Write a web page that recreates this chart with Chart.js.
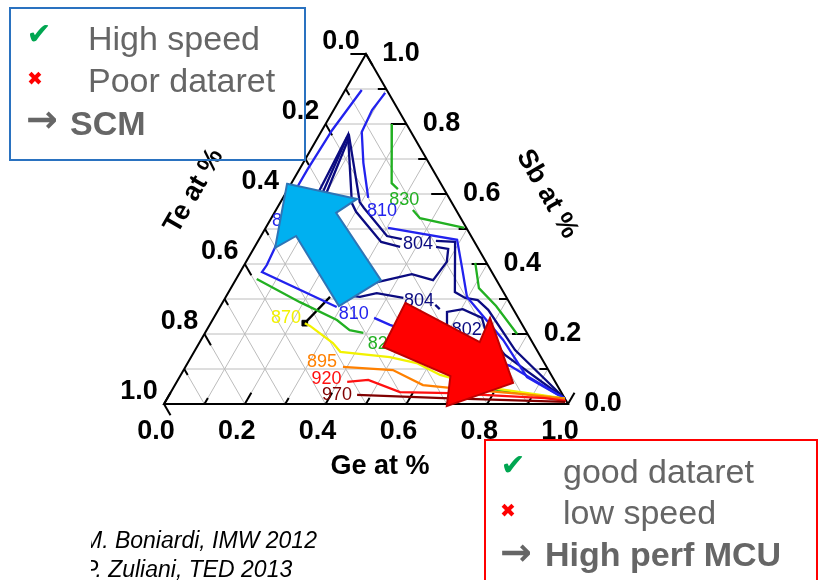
<!DOCTYPE html>
<html>
<head>
<meta charset="utf-8">
<script src="https://cdn.jsdelivr.net/npm/chart.js@4.4.1/dist/chart.umd.min.js"></script>
<style>
  html, body { margin: 0; padding: 0; background: #ffffff; }
  canvas { display: block; }
</style>
</head>
<body>
<canvas id="ternaryChart" width="821" height="580"></canvas>
<script>
// compositions as [Ge, Sb] fractions (Te = 1 - Ge - Sb), null = gap for a label
const contour810a = [[0.041, 0.897], [0.033, 0.840], [0.025, 0.783], [0.020, 0.669], [0.020, 0.617], null, [0.050, 0.460], [0.056, 0.397], [0.054, 0.377], [0.289, 0.277], null, [0.397, 0.246], [0.446, 0.226], [0.802, 0.109], [0.985, 0.015]];
const contour810b = [[0.103, 0.889], [0.095, 0.840], [0.101, 0.777], [0.149, 0.689], [0.211, 0.589], null, [0.303, 0.503], [0.491, 0.469], [0.542, 0.391], [0.597, 0.306], [0.748, 0.183], [0.860, 0.077], [0.985, 0.015]];
const contour804a = [[0.080, 0.603], [0.071, 0.769], [0.178, 0.574], [0.201, 0.549], [0.306, 0.463], [0.360, 0.449], null, [0.449, 0.449], [0.482, 0.443], [0.497, 0.406], [0.489, 0.354], [0.428, 0.371], [0.347, 0.346], [0.310, 0.326]];
const contour804b = [[0.101, 0.600], [0.077, 0.763], [0.196, 0.577], [0.215, 0.560], [0.312, 0.480], [0.353, 0.471], null, [0.440, 0.466], [0.489, 0.463], [0.560, 0.320], [0.594, 0.303], [0.628, 0.297], [0.668, 0.269], [0.792, 0.154], [0.985, 0.015]];
const contour804c = [[0.072, 0.763], [0.092, 0.594], [0.292, 0.311], [0.332, 0.306], [0.368, 0.317], [0.441, 0.303], null, [0.530, 0.283], [0.547, 0.271]];
const contour802 = [[0.594, 0.217], [0.569, 0.263], [0.604, 0.271], [0.664, 0.246], [0.696, 0.203], [0.774, 0.140], [0.985, 0.015]];
const contour830a = [[0.164, 0.800], [0.248, 0.631], [0.272, 0.614], null, [0.339, 0.554], [0.368, 0.531], [0.492, 0.503]];
const contour830b = [[0.569, 0.403], [0.614, 0.331], [0.682, 0.280], [0.774, 0.200]];
const contour820 = [[0.051, 0.357], [0.191, 0.291], [0.308, 0.240], [0.354, 0.211], [0.392, 0.203], null, [0.487, 0.154], [0.786, 0.043], [0.945, 0.020], [0.985, 0.015]];
const contour870 = [[0.233, 0.231], [0.250, 0.223], [0.331, 0.174], [0.362, 0.149], [0.492, 0.134], [0.567, 0.117], [0.642, 0.083], [0.766, 0.049], [0.918, 0.026], [0.985, 0.015]];
const contour895 = [[0.390, 0.106], [0.518, 0.097], [0.614, 0.054], [0.685, 0.046], [0.867, 0.029], [0.985, 0.015]];
const contour920 = [[0.422, 0.063], [0.471, 0.069], [0.567, 0.034], [0.692, 0.031], [0.934, 0.017], [0.990, 0.009]];
const contour970 = [[0.465, 0.026], [0.682, 0.017], [0.990, 0.006]];
const markerLine = [[0.233, 0.231], [0.258, 0.306]];
const markerPoint = [[0.233, 0.231]];

const labelLevels = ["830", "810", "810", "804", "804", "810", "802", "820", "870", "895", "920", "970"];
const labelSpots = [[0.303, 0.583], [0.264, 0.551], [0.043, 0.523], [0.400, 0.457], [0.484, 0.294], [0.341, 0.257], [0.644, 0.211], [0.456, 0.171], [0.179, 0.246], [0.331, 0.120], [0.367, 0.071], [0.415, 0.026]];

const arrowSCM = [[-0.010, 0.629], [0.185, 0.586], [0.153, 0.546], [0.360, 0.354], [0.293, 0.280], [0.087, 0.480], [0.052, 0.446]];
const arrowMCU = [[0.453, 0.289], [0.693, 0.177], [0.684, 0.246], [0.834, 0.060], [0.703, -0.006], [0.669, 0.080], [0.461, 0.163]];

const tickValues = [0, 0.2, 0.4, 0.6, 0.8, 1.0];
const tickLabels = ["0.0", "0.2", "0.4", "0.6", "0.8", "1.0"];

const levelColors = {
  "802": "#0b0b80",
  "804": "#0b0b80",
  "810": "#2222ee",
  "820": "#22b022",
  "830": "#22b022",
  "870": "#f2f200",
  "895": "#ff8000",
  "920": "#ff1010",
  "970": "#800000",
  "marker": "#000000"
};

const chartCanvas = document.getElementById("ternaryChart");

const toXY = ([ge, sb]) => ({ x: ge + sb / 2, y: sb });

const splitAtGaps = (points) => {
  let segments = [[]];
  points.forEach((point) => {
    if (point === null) segments.push([]);
    else segments[segments.length - 1].push(toXY(point));
  });
  return segments.filter((segment) => segment.length > 1);
};

const contourList = [
  [contour970, "970"], [contour920, "920"], [contour895, "895"], [contour870, "870"],
  [contour820, "820"], [contour830a, "830"], [contour830b, "830"],
  [contour810a, "810"], [contour810b, "810"],
  [contour804a, "804"], [contour804b, "804"], [contour804c, "804"], [contour802, "802"],
  [markerLine, "marker"]
];

let datasets = [];
contourList.forEach(([points, level]) => {
  splitAtGaps(points).forEach((segment) => {
    datasets.push({
      data: segment,
      showLine: true,
      borderColor: levelColors[level],
      borderWidth: 2.3,
      pointRadius: 0,
      tension: 0,
      clip: false
    });
  });
});
datasets.push({
  data: markerPoint.map(toXY),
  showLine: false,
  pointStyle: "rect",
  pointRadius: 4,
  backgroundColor: "#000000",
  borderColor: "#000000",
  clip: false
});

const ternaryDecor = {
  id: "ternaryDecor",
  beforeDatasetsDraw(chart) {
    const ctx = chart.ctx;
    const px = (ge, sb) => [chart.scales.x.getPixelForValue(ge + sb / 2), chart.scales.y.getPixelForValue(sb)];
    const segment = (a, b) => {
      ctx.beginPath();
      ctx.moveTo(a[0], a[1]);
      ctx.lineTo(b[0], b[1]);
      ctx.stroke();
    };
    ctx.save();
    ctx.lineWidth = 1;
    ctx.strokeStyle = "#bcbcbc";
    for (let k = 1; k < 10; k++) {
      const f = k / 10;
      segment(px(0, f), px(1 - f, f));
      segment(px(f, 0), px(f, 1 - f));
      segment(px(1 - f, 0), px(0, 1 - f));
    };
    ctx.strokeStyle = "#000000";
    ctx.lineWidth = 2;
    ctx.lineJoin = "miter";
    ctx.beginPath();
    ctx.moveTo(...px(0, 0));
    ctx.lineTo(...px(1, 0));
    ctx.lineTo(...px(0, 1));
    ctx.closePath();
    ctx.stroke();
    for (let k = 0; k <= 10; k++) {
      const f = k / 10;
      const len = k % 2 === 0 ? 13 : 7;
      let p = px(f, 0);
      segment(p, [p[0] + 0.5 * len, p[1] - 0.866 * len]);
      p = px(1 - f, f);
      segment(p, [p[0] - 1.2 * len, p[1]]);
      p = px(0, 1 - f);
      segment(p, [p[0] + 0.5 * len, p[1] + 0.866 * len]);
    };
    ctx.restore();
  },
  afterDatasetsDraw(chart) {
    const ctx = chart.ctx;
    const px = (ge, sb) => [chart.scales.x.getPixelForValue(ge + sb / 2), chart.scales.y.getPixelForValue(sb)];
    ctx.save();

    ctx.font = '18px "Liberation Sans", Arial, sans-serif';
    ctx.textAlign = "center";
    ctx.textBaseline = "middle";
    labelLevels.forEach((level, i) => {
      const p = px(labelSpots[i][0], labelSpots[i][1]);
      ctx.fillStyle = levelColors[level];
      ctx.fillText(level, p[0], p[1]);
    });

    const drawArrow = (shape, fill, stroke) => {
      ctx.beginPath();
      shape.forEach(([ge, sb], i) => {
        const p = px(ge, sb);
        if (i === 0) ctx.moveTo(p[0], p[1]);
        else ctx.lineTo(p[0], p[1]);
      });
      ctx.closePath();
      ctx.fillStyle = fill;
      ctx.fill();
      ctx.lineWidth = 2;
      ctx.lineJoin = "miter";
      ctx.strokeStyle = stroke;
      ctx.stroke();
    };
    drawArrow(arrowSCM, "#00b0f0", "#2e75b6");
    drawArrow(arrowMCU, "#ff0000", "#c00000");

    ctx.fillStyle = "#000000";
    ctx.font = 'bold 27px "Liberation Sans", Arial, sans-serif';
    tickValues.forEach((v, i) => {
      let p = px(v, 0);
      ctx.fillText(tickLabels[i], p[0] - 8, p[1] + 28);
      p = px(1 - v, v);
      ctx.fillText(tickLabels[i], p[0] + 35, p[1]);
      p = px(0, 1 - v);
      ctx.fillText(tickLabels[i], p[0] - 25, p[1] - 12);
    });

    let p = px(0.5, 0);
    ctx.fillText("Ge at %", p[0] + 14, p[1] + 63);
    p = px(0, 0.5);
    ctx.save();
    ctx.translate(p[0] - 71, p[1] - 38);
    ctx.rotate(-Math.PI / 3);
    ctx.fillText("Te at %", 0, 0);
    ctx.restore();
    p = px(0.5, 0.5);
    ctx.save();
    ctx.translate(p[0] + 80, p[1] - 35);
    ctx.rotate(Math.PI / 3);
    ctx.fillText("Sb at %", 0, 0);
    ctx.restore();

    ctx.lineWidth = 2;
    ctx.strokeStyle = "#2a72c0";
    ctx.strokeRect(10, 8, 295, 152);
    ctx.strokeStyle = "#ff0000";
    ctx.strokeRect(485, 440, 332, 150);

    ctx.textAlign = "left";
    ctx.textBaseline = "alphabetic";
    ctx.fillStyle = "#666666";
    ctx.font = '34px "Liberation Sans", Arial, sans-serif';
    ctx.fillText("High speed", 88, 50);
    ctx.fillText("Poor dataret", 88, 92);
    ctx.fillText("good dataret", 563, 483);
    ctx.fillText("low speed", 563, 524);
    ctx.font = 'bold 34px "Liberation Sans", Arial, sans-serif';
    ctx.fillText("SCM", 70, 135);
    ctx.fillText("High perf MCU", 545, 566);

    ctx.textAlign = "center";
    ctx.textBaseline = "middle";
    ctx.font = 'bold 38px "DejaVu Sans", sans-serif';
    ctx.fillText("\u2192", 42, 122);
    ctx.fillText("\u2192", 516, 555);
    ctx.fillStyle = "#00a651";
    ctx.font = '30px "DejaVu Sans", sans-serif';
    ctx.fillText("\u2714", 39, 36);
    ctx.fillText("\u2714", 513, 467);
    ctx.fillStyle = "#ff0000";
    ctx.font = '19px "DejaVu Sans", sans-serif';
    ctx.fillText("\u2716", 35, 80);
    ctx.fillText("\u2716", 508, 512);

    ctx.beginPath();
    ctx.rect(91, 520, 300, 60);
    ctx.clip();
    ctx.fillStyle = "#000000";
    ctx.textAlign = "left";
    ctx.textBaseline = "alphabetic";
    ctx.font = 'italic 23px "Liberation Sans", Arial, sans-serif';
    ctx.fillText("M. Boniardi, IMW 2012", 83, 548);
    ctx.fillText("P. Zuliani, TED 2013", 83, 577);
    ctx.restore();
  }
};

new Chart(chartCanvas, {
  type: "scatter",
  data: { datasets: datasets },
  options: {
    responsive: false,
    animation: false,
    events: [],
    layout: { padding: { left: 164, right: 253, top: 54, bottom: 176 } },
    scales: {
      x: { type: "linear", min: 0, max: 1, display: false },
      y: { type: "linear", min: 0, max: 1, display: false }
    },
    plugins: {
      legend: { display: false },
      tooltip: { enabled: false }
    }
  },
  plugins: [ternaryDecor]
});
</script>
</body>
</html>
